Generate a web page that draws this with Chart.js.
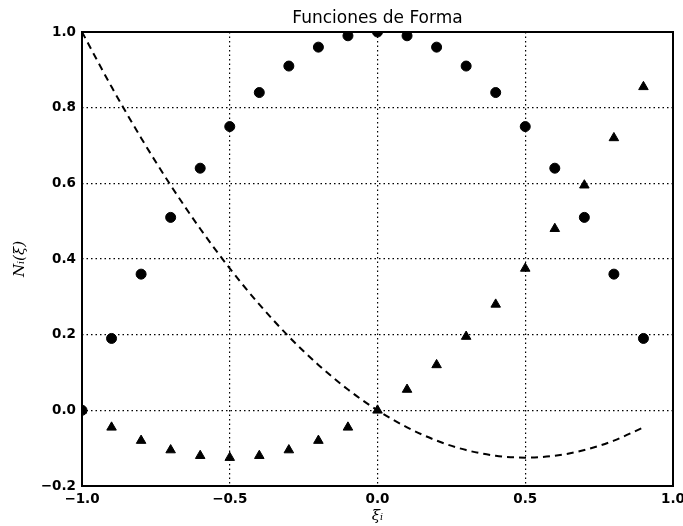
<!DOCTYPE html>
<html>
<head>
<meta charset="utf-8">
<script src="https://cdn.jsdelivr.net/npm/chart.js@4.4.1/dist/chart.umd.min.js"></script>
<style>
  html, body { margin: 0; padding: 0; background: #fff; }
  #wrap { width: 683px; height: 526px; }
</style>
</head>
<body>
<div id="wrap"><canvas id="myChart" width="683" height="526"></canvas></div>
<script>
// values
const xi = [-1.0, -0.9, -0.8, -0.7, -0.6, -0.5, -0.4, -0.3, -0.2, -0.1,
            0.0, 0.1, 0.2, 0.3, 0.4, 0.5, 0.6, 0.7, 0.8, 0.9];
const n1 = [1.0, 0.855, 0.72, 0.595, 0.48, 0.375, 0.28, 0.195, 0.12, 0.055,
            0.0, -0.045, -0.08, -0.105, -0.12, -0.125, -0.12, -0.105, -0.08, -0.045];
const n2 = [0.0, 0.19, 0.36, 0.51, 0.64, 0.75, 0.84, 0.91, 0.96, 0.99,
            1.0, 0.99, 0.96, 0.91, 0.84, 0.75, 0.64, 0.51, 0.36, 0.19];
const n3 = [0.0, -0.045, -0.08, -0.105, -0.12, -0.125, -0.12, -0.105, -0.08, -0.045,
            0.0, 0.055, 0.12, 0.195, 0.28, 0.375, 0.48, 0.595, 0.72, 0.855];
const xTicks = [-1.0, -0.5, 0.0, 0.5, 1.0];
const yTicks = [-0.2, 0.0, 0.2, 0.4, 0.6, 0.8, 1.0];
const chartTitle = 'Funciones de Forma';

function pts(ys) {
  return xi.map((x, i) => ({ x: x, y: ys[i] }));
}
function fmt(v) {
  return v.toFixed(1).replace('-', '\u2212');
}

// clip marks to the axes box, then draw the box and the title
const frame = {
  id: 'frame',
  beforeDatasetsDraw(chart) {
    const a = chart.chartArea, ctx = chart.ctx;
    ctx.save();
    ctx.beginPath();
    ctx.rect(a.left, a.top, a.right - a.left, a.bottom - a.top);
    ctx.clip();
  },
  afterDatasetsDraw(chart) {
    const a = chart.chartArea, ctx = chart.ctx;
    ctx.restore();
    ctx.save();
    ctx.strokeStyle = '#000';
    ctx.lineWidth = 2;
    ctx.strokeRect(a.left, a.top, a.right - a.left, a.bottom - a.top);
    ctx.fillStyle = '#000';
    ctx.font = '17px "DejaVu Sans"';
    ctx.textAlign = 'center';
    ctx.textBaseline = 'middle';
    ctx.fillText(chartTitle, (a.left + a.right) / 2, 19);
    ctx.restore();
  }
};

const tickFont = { family: 'DejaVu Sans', size: 13.5, weight: 'bold' };

function createChart() {
  const ctx = document.getElementById('myChart').getContext('2d');
  return new Chart(ctx, {
    type: 'scatter',
    data: {
      datasets: [{
        type: 'line',
        label: 'N1',
        data: pts(n1),
        borderColor: '#000',
        borderWidth: 2,
        borderDash: [7, 5],
        pointRadius: 0,
        fill: false,
        cubicInterpolationMode: 'monotone'
      }, {
        label: 'N2',
        data: pts(n2),
        backgroundColor: '#000',
        borderColor: '#000',
        pointStyle: 'circle',
        pointRadius: 5
      }, {
        label: 'N3',
        data: pts(n3),
        backgroundColor: '#000',
        borderColor: '#000',
        pointStyle: 'triangle',
        pointRadius: 5.5
      }]
    },
    options: {
      responsive: false,
      animation: false,
      layout: { padding: { left: 0, right: 10, top: 32, bottom: 0 } },
      plugins: {
        legend: { display: false },
        title: { display: false },
        tooltip: { enabled: false }
      },
      scales: {
        x: {
          type: 'linear',
          min: -1, max: 1,
          afterBuildTicks(s) { s.ticks = xTicks.map(v => ({ value: v })); },
          afterFit(s) { s.height = 40; s.paddingLeft = 0; s.paddingRight = 0; },
          ticks: { color: '#000', font: tickFont, padding: 5, callback: fmt, maxRotation: 0 },
          grid: { color: '#000', lineWidth: 1.2, drawTicks: false },
          border: { display: false, dash: [1.5, 3] },
          title: {
            display: true, text: 'ξᵢ', color: '#000',
            font: { family: 'DejaVu Serif', size: 15, style: 'italic' },
            padding: { top: 0, bottom: 1 }
          }
        },
        y: {
          min: -0.2, max: 1.0,
          afterBuildTicks(s) { s.ticks = yTicks.map(v => ({ value: v })); },
          afterFit(s) { s.width = 82; s.paddingTop = 0; s.paddingBottom = 0; },
          ticks: { color: '#000', font: tickFont, padding: 6, callback: fmt },
          grid: { color: '#000', lineWidth: 1.2, drawTicks: false },
          border: { display: false, dash: [1.5, 3] },
          title: {
            display: true, text: 'Nᵢ(ξ)', color: '#000',
            font: { family: 'DejaVu Serif', size: 15, style: 'italic' },
            padding: { top: 11, bottom: 4 }
          }
        }
      }
    },
    plugins: [frame]
  });
}

let chart = createChart();
</script>
</body>
</html>
